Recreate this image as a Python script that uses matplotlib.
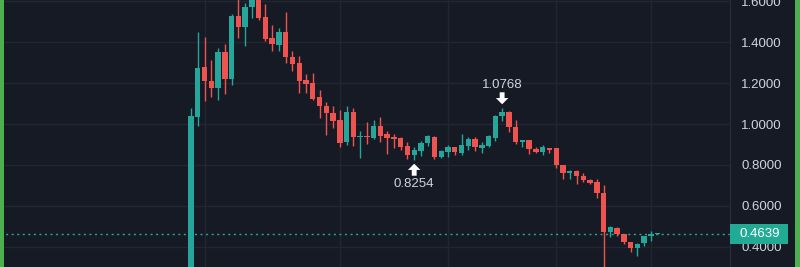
import matplotlib
matplotlib.use("Agg")
import matplotlib.pyplot as plt
from matplotlib.patches import Rectangle
from matplotlib.transforms import blended_transform_factory

# candle data (one bar per index)
opens = [0.12, 1.034, 1.278, 1.211, 1.176, 1.354, 1.221, 1.528, 1.476, 1.571,
         1.640, 1.521, 1.420, 1.387, 1.452, 1.330, 1.298, 1.213, 1.200, 1.132,
         1.089, 1.054, 1.018, 0.910, 1.059, 0.934, 0.943, 0.933, 0.992, 0.949,
         0.937, 0.930, 0.891, 0.849, 0.866, 0.907, 0.937, 0.839, 0.861, 0.888,
         0.859, 0.894, 0.927, 0.881, 0.894, 0.932, 1.037, 1.061, 0.985, 0.910,
         0.920, 0.880, 0.865, 0.881, 0.881, 0.801, 0.758, 0.769, 0.744, 0.725,
         0.717, 0.663, 0.471, 0.493, 0.460, 0.424, 0.395, 0.416, 0.452, 0.463]
highs = [1.078, 1.449, 1.427, 1.314, 1.371, 1.392, 1.538, 1.630, 1.590, 1.660,
         1.680, 1.587, 1.484, 1.471, 1.546, 1.357, 1.333, 1.245, 1.249, 1.164,
         1.110, 1.086, 1.070, 1.089, 1.078, 0.967, 1.008, 1.018, 1.034, 0.967,
         0.953, 0.937, 0.910, 0.886, 0.915, 0.948, 0.943, 0.873, 0.897, 0.888,
         0.950, 0.938, 0.938, 0.913, 0.946, 1.044, 1.0768, 1.063, 1.020, 0.922,
         0.923, 0.888, 0.897, 0.884, 0.884, 0.800, 0.774, 0.774, 0.759, 0.730,
         0.730, 0.704, 0.501, 0.498, 0.461, 0.424, 0.416, 0.452, 0.476, 0.467]
lows = [0.10, 0.988, 1.114, 1.132, 1.115, 1.148, 1.192, 1.422, 1.383, 1.517,
        1.509, 1.406, 1.359, 1.359, 1.298, 1.261, 1.154, 1.154, 1.115, 1.029,
        0.948, 0.980, 0.888, 0.899, 0.894, 0.834, 0.904, 0.927, 0.910, 0.855,
        0.883, 0.875, 0.829, 0.8254, 0.842, 0.891, 0.830, 0.832, 0.840, 0.848,
        0.848, 0.873, 0.869, 0.860, 0.886, 0.918, 1.013, 0.963, 0.902, 0.886,
        0.852, 0.858, 0.848, 0.860, 0.783, 0.730, 0.732, 0.707, 0.716, 0.707,
        0.639, 0.25, 0.446, 0.452, 0.413, 0.373, 0.356, 0.403, 0.427, 0.460]
closes = [1.037, 1.276, 1.208, 1.176, 1.354, 1.220, 1.528, 1.476, 1.571, 1.640,
          1.517, 1.415, 1.390, 1.452, 1.327, 1.294, 1.208, 1.197, 1.123, 1.086,
          1.054, 1.013, 0.907, 1.059, 0.937, 0.943, 0.934, 0.992, 0.943, 0.930,
          0.927, 0.888, 0.849, 0.871, 0.907, 0.940, 0.839, 0.866, 0.886, 0.865,
          0.899, 0.927, 0.886, 0.899, 0.940, 1.037, 1.059, 0.985, 0.910, 0.920,
          0.878, 0.865, 0.886, 0.875, 0.801, 0.758, 0.769, 0.744, 0.725, 0.712,
          0.663, 0.471, 0.496, 0.460, 0.424, 0.395, 0.415, 0.452, 0.463, 0.4639]

y_ticks = [0.4, 0.6, 0.8, 1.0, 1.2, 1.4, 1.6]
last_price = 0.4639
low_mark = (33, 0.8254)
high_mark = (46, 1.0768)
vgrid = [2, 22, 38, 54, 68]

# colours
BG = "#161a25"
GRID = "#222631"
UP = "#26a69a"
DOWN = "#ef5350"
TXT = "#d1d4dc"

plt.rcParams['font.family'] = ['Liberation Sans', 'DejaVu Sans']

fig = plt.figure(figsize=(8, 2.67), dpi=100, facecolor=BG)
ax = fig.add_axes([0, 0, 730 / 800, 1])
ax.set_facecolor(BG)

ymin, ymax = 0.3007, 1.6064
px = (ymax - ymin) / 267  # price per pixel

for y in y_ticks:
    ax.axhline(y, color=GRID, lw=1, zorder=0)
for x in vgrid:
    ax.axvline(x, color=GRID, lw=1, zorder=0)

# candles
for i in range(len(opens)):
    o, h, l, c = opens[i], highs[i], lows[i], closes[i]
    col = UP if c >= o else DOWN
    ax.vlines(i, l, h, color=col, lw=1, zorder=2)
    bot = min(o, c)
    hgt = max(abs(c - o), 0.003)
    ax.add_patch(Rectangle((i - 0.4, bot), 0.8, hgt, facecolor=col,
                           edgecolor='none', zorder=3))

# last price line
ax.axhline(last_price, color=UP, lw=1, ls=(0, (1.5, 2.5)), zorder=1)

# high / low markers (block arrows, tip 4px off the wick)
arrow = dict(arrowstyle='simple,head_length=0.45,head_width=0.9,tail_width=0.35',
             color='white', lw=0, mutation_scale=10, shrinkA=0, shrinkB=0)
ax.annotate('', xy=(low_mark[0], low_mark[1] - 4 * px), xytext=(0, -12),
            textcoords='offset pixels', arrowprops=arrow)
ax.annotate(f"{low_mark[1]:.4f}", xy=low_mark, xytext=(0, -24),
            textcoords='offset pixels', ha='center', va='center',
            color=TXT, fontsize=9.5)
ax.annotate('', xy=(high_mark[0], high_mark[1] + 4 * px), xytext=(0, 12),
            textcoords='offset pixels', arrowprops=arrow)
ax.annotate(f"{high_mark[1]:.4f}", xy=high_mark, xytext=(0, 23),
            textcoords='offset pixels', ha='center', va='center',
            color=TXT, fontsize=9.5)

ax.set_xlim(-28.24, 79.69)
ax.set_ylim(ymin, ymax)
ax.set_xticks([])
ax.yaxis.tick_right()
ax.set_yticks(y_ticks)
ax.set_yticklabels([f"{v:.4f}" for v in y_ticks])
ax.tick_params(axis='y', length=0, pad=8, labelsize=9.5, labelcolor=TXT)
for s in ['top', 'bottom', 'left']:
    ax.spines[s].set_visible(False)
ax.spines['right'].set_color('#2a2e39')

# current price tag on the axis
tr = blended_transform_factory(ax.transAxes, ax.transData)
tag_h = 20 * px
ax.add_patch(Rectangle((1.0, last_price - tag_h / 2), 58 / 730, tag_h,
                       transform=tr, facecolor='#22ab94', edgecolor='none',
                       clip_on=False, zorder=5))
ax.text(1.0 + 10 / 730, last_price, f"{last_price:.4f}", transform=tr,
        ha='left', va='center', color='white', fontsize=9.5, zorder=6,
        clip_on=False)

# green frame edges of the screenshot
fig.patches.append(Rectangle((0, 0), 4 / 800, 1, transform=fig.transFigure,
                             facecolor='#4caf50', edgecolor='none'))
fig.patches.append(Rectangle((795 / 800, 0), 5 / 800, 1, transform=fig.transFigure,
                             facecolor='#4caf50', edgecolor='none'))

fig.savefig("out.png", dpi=100, facecolor=BG)
